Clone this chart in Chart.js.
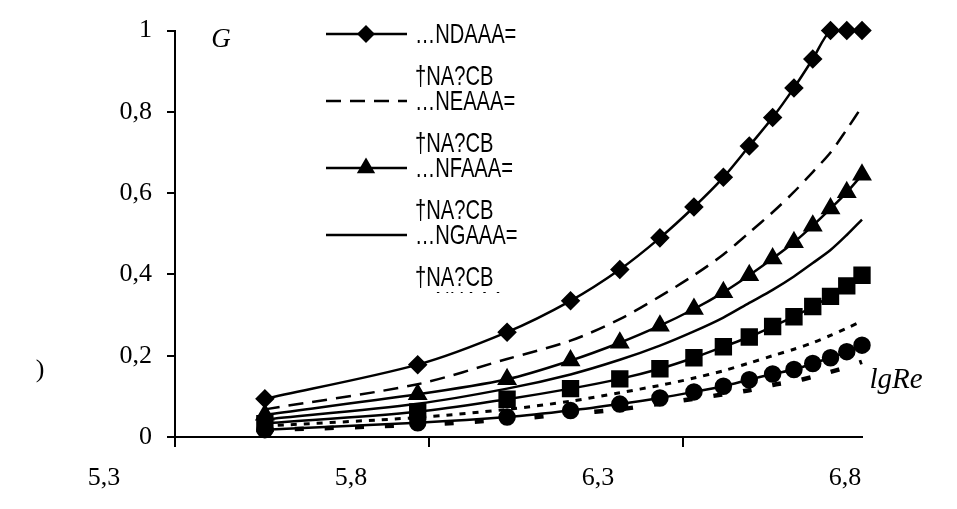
<!DOCTYPE html>
<html>
<head>
<meta charset="utf-8">
<script src="https://cdn.jsdelivr.net/npm/chart.js@4.4.1/dist/chart.umd.min.js"></script>
<style>
  html, body { margin: 0; padding: 0; background: #fff; }
</style>
</head>
<body>
<canvas id="chart" width="957" height="509"></canvas>
<script>
// x positions of the measured points (lgRe)
const lgRe = [5.477, 5.778, 5.954, 6.079, 6.176, 6.255, 6.322, 6.380, 6.431, 6.477, 6.519, 6.556, 6.591, 6.623, 6.653];

// G values, one array per curve (top to bottom)
const gDiamond  = [0.094, 0.178, 0.258, 0.335, 0.412, 0.490, 0.566, 0.639, 0.716, 0.786, 0.859, 0.930, 1, 1, 1];
const gLongDash = [0.068, 0.130, 0.192, 0.237, 0.290, 0.346, 0.398, 0.449, 0.503, 0.553, 0.603, 0.652, 0.700, 0.757, 0.813];
const gTriangle = [0.055, 0.105, 0.142, 0.188, 0.232, 0.274, 0.315, 0.356, 0.398, 0.439, 0.479, 0.520, 0.562, 0.602, 0.645];
const gSolid    = [0.043, 0.082, 0.119, 0.154, 0.190, 0.225, 0.260, 0.294, 0.330, 0.362, 0.395, 0.428, 0.460, 0.497, 0.535];
const gSquare   = [0.033, 0.062, 0.093, 0.119, 0.143, 0.168, 0.195, 0.222, 0.246, 0.272, 0.296, 0.321, 0.346, 0.372, 0.398];
const gDotted   = [0.027, 0.048, 0.068, 0.088, 0.109, 0.127, 0.145, 0.163, 0.182, 0.200, 0.216, 0.232, 0.250, 0.268, 0.285];
const gCircle   = [0.018, 0.035, 0.049, 0.065, 0.081, 0.096, 0.111, 0.125, 0.141, 0.155, 0.166, 0.181, 0.195, 0.210, 0.226];
const gThickDash= [0.017, 0.030, 0.043, 0.057, 0.068, 0.082, 0.094, 0.105, 0.115, 0.128, 0.137, 0.148, 0.160, 0.172, 0.185];

// axis ticks and labels
const xTickMarks = [5.3, 5.8, 6.3];
const xTickLabels = [5.3, 5.8, 6.3, 6.8];
const yTicks = [0, 0.2, 0.4, 0.6, 0.8, 1];

// legend texts (as in the picture)
const legendNames = ['…NDAAA=', '…NEAAA=', '…NFAAA=', '…NGAAA=', '…NHAAA='];
const legendSub = '†NA?CB';

const black = '#000';
const serif = '"Liberation Serif", "Times New Roman", serif';

function series(label, values, extra) {
    return Object.assign({
        label: label,
        data: lgRe.map((x, i) => ({ x: x, y: values[i] })),
        borderColor: black,
        backgroundColor: black,
        borderWidth: 2.5,
        pointRadius: 0,
        pointStyle: 'circle',
        tension: 0.3,
        clip: false
    }, extra);
}

const datasets = [
    series('1', gDiamond,  { pointStyle: 'rectRot', pointRadius: 8 }),
    series('2', gLongDash, { borderDash: [15, 9] }),
    series('3', gTriangle, { pointStyle: 'triangle', pointRadius: 9 }),
    series('4', gSolid,    {}),
    series('5', gSquare,   { pointStyle: 'rect', pointRadius: 10.5 }),
    series('6', gDotted,   { borderDash: [6, 7], borderWidth: 3 }),
    series('7', gCircle,   { pointStyle: 'circle', pointRadius: 7.5 }),
    series('8', gThickDash,{ borderDash: [9, 21], borderWidth: 4.5 })
];

// legend drawn inside the plot, like the original (lower part is cut off)
const legendPlugin = {
    id: 'innerLegend',
    afterDraw(chart) {
        const c = chart.ctx;
        c.save();
        c.beginPath();
        c.rect(300, 0, 260, 293);
        c.clip();
        datasets.slice(0, 5).forEach((d, i) => {
            const y = 34 + i * 67;
            c.strokeStyle = black;
            c.lineWidth = 2.5;
            c.setLineDash(d.borderDash || []);
            c.beginPath();
            c.moveTo(326, y);
            c.lineTo(407, y);
            c.stroke();
            c.setLineDash([]);
            if (d.pointRadius > 0) {
                c.fillStyle = black;
                Chart.helpers.drawPoint(c, {
                    pointStyle: d.pointStyle, radius: d.pointRadius * 0.9, rotation: 0, borderWidth: 1
                }, 366, y);
            }
            c.save();
            c.translate(415, 0);
            c.scale(0.72, 1);
            c.font = '28px "Liberation Sans", Arial, sans-serif';
            c.textBaseline = 'middle';
            c.fillStyle = black;
            c.fillText(legendNames[i], 0, y + 1);
            c.fillText(legendSub, 0, y + 43);
            c.restore();
        });
        c.restore();

        // axis titles and stray mark
        c.save();
        c.fillStyle = black;
        c.textBaseline = 'middle';
        c.textAlign = 'center';
        c.font = 'italic 27px ' + serif;
        c.fillText('G', 221, 40);
        c.font = 'italic 29px ' + serif;
        c.fillText('lgRe', 896, 380);
        c.font = '26px ' + serif;
        c.fillText(')', 40, 370);
        c.restore();
    }
};

new Chart(document.getElementById('chart'), {
    type: 'line',
    data: { datasets: datasets },
    options: {
        responsive: false,
        animation: false,
        devicePixelRatio: 1,
        layout: { padding: { top: 22, right: 95, bottom: 0, left: 0 } },
        plugins: { legend: { display: false }, tooltip: { enabled: false } },
        scales: {
            x: {
                type: 'linear',
                position: 'bottom',
                weight: 0,
                min: 5.3,
                max: 6.653,
                afterBuildTicks(axis) { axis.ticks = xTickMarks.map(v => ({ value: v })); },
                ticks: { display: false },
                grid: { display: true, drawOnChartArea: false, drawTicks: true, tickLength: 10, color: black, lineWidth: 2 },
                border: { display: true, color: black, width: 2 },
                afterFit(axis) { axis.height = 12; }
            },
            xl: {
                type: 'linear',
                position: 'bottom',
                weight: 1,
                min: 5.4437,
                max: 6.8344,
                afterBuildTicks(axis) { axis.ticks = xTickLabels.map(v => ({ value: v })); },
                ticks: {
                    autoSkip: false,
                    maxRotation: 0,
                    padding: 14,
                    color: black,
                    font: { family: serif, size: 26 },
                    callback: v => v.toFixed(1).replace('.', ',')
                },
                grid: { display: false, drawTicks: false },
                border: { display: false },
                afterFit(axis) { axis.height = 60; }
            },
            y: {
                min: 0,
                max: 1,
                afterBuildTicks(axis) { axis.ticks = yTicks.map(v => ({ value: v })); },
                ticks: {
                    padding: 15,
                    color: black,
                    font: { family: serif, size: 26 },
                    callback: v => String(v).replace('.', ',')
                },
                grid: { display: true, drawOnChartArea: false, drawTicks: true, tickLength: 8, color: black, lineWidth: 2 },
                border: { display: true, color: black, width: 2 },
                afterFit(axis) { axis.width = 175; }
            }
        }
    },
    plugins: [legendPlugin]
});
</script>
</body>
</html>
